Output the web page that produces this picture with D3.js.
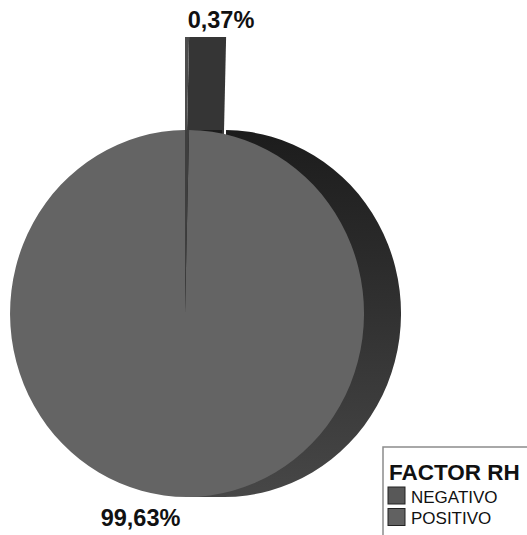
<!DOCTYPE html>
<html>
<head>
<meta charset="utf-8">
<script src="https://cdn.jsdelivr.net/npm/d3@7"></script>
<style>
  html, body { margin: 0; padding: 0; background: #fff; }
  svg { display: block; font-family: "Liberation Sans", Arial, sans-serif; }
</style>
</head>
<body>
<script>
// Factor RH distribution
const categories = ["NEGATIVO", "POSITIVO"];
const values = [0.37, 99.63];
const legendTitle = "FACTOR RH";

const faceColors = ["#5a5a5a", "#646464"];
const legendColors = ["#585858", "#616161"];

const W = 527, H = 535;
const cx = 185, cy = 313.5, rx = 177, ry = 183.5;
const depth = 37;      // horizontal extrusion of the 3D pie
const explode = 93;    // offset of the pulled-out slice

const fmt = v => d3.format(".2f")(v).replace(".", ",") + "%";

const svg = d3.select("body").append("svg")
  .attr("width", W).attr("height", H);

const defs = svg.append("defs");
const grad = defs.append("linearGradient")
  .attr("id", "sideGrad").attr("x1", 0).attr("y1", 0).attr("x2", 0).attr("y2", 1);
grad.append("stop").attr("offset", "0%").attr("stop-color", "#1c1c1c");
grad.append("stop").attr("offset", "45%").attr("stop-color", "#2f2f2f");
grad.append("stop").attr("offset", "100%").attr("stop-color", "#474747");

const pie = d3.pie().sort(null).value(d => d);
const slices = pie(values);
const arc = d3.arc().innerRadius(0).outerRadius(1);

// ellipse-space point for a pie angle
const pt = (a, ox, oy) => [ox + rx * Math.sin(a), oy - ry * Math.cos(a)];

const small = slices[0], big = slices[1];

// pulled-out slice: radial side wall, then its face
const ey = cy - explode;
const outer = pt(small.endAngle, cx, ey);
svg.append("path")
  .attr("d", d3.line()([[cx, ey], outer, [outer[0] + depth, outer[1]], [cx + depth, ey]]) + "Z")
  .attr("fill", "#353535");
svg.append("g")
  .attr("transform", `translate(${cx},${ey}) scale(${rx},${ry})`)
  .append("path").attr("d", arc(small)).attr("fill", "#4c4c4c");

// main slice: extruded side
const side = svg.append("g")
  .attr("transform", `translate(${cx},${cy}) scale(${rx},${ry})`);
side.append("path")
  .attr("transform", `translate(${depth / rx},0)`)
  .attr("d", arc(big)).attr("fill", "url(#sideGrad)");
side.append("rect")
  .attr("x", 0).attr("y", -1).attr("width", depth / rx).attr("height", 2)
  .attr("fill", "url(#sideGrad)");

// main slice: front face and the gap left by the pulled-out slice
const face = svg.append("g")
  .attr("transform", `translate(${cx},${cy}) scale(${rx},${ry})`);
face.append("path").attr("d", arc(big)).attr("fill", faceColors[1]);
face.append("path").attr("d", arc(small)).attr("fill", "#3e3e3e");

// value labels
svg.append("text")
  .attr("x", 221).attr("y", 28)
  .attr("text-anchor", "middle")
  .attr("font-size", 23.5).attr("font-weight", "bold").attr("fill", "#111")
  .text(fmt(values[0]));
svg.append("text")
  .attr("x", 140.5).attr("y", 526)
  .attr("text-anchor", "middle")
  .attr("font-size", 23.5).attr("font-weight", "bold").attr("fill", "#111")
  .text(fmt(values[1]));

// legend
const lg = svg.append("g");
lg.append("rect")
  .attr("x", 383).attr("y", 447).attr("width", 160).attr("height", 110)
  .attr("fill", "#fff").attr("stroke", "#8c8c8c").attr("stroke-width", 1.5);
lg.append("text")
  .attr("x", 389).attr("y", 480)
  .attr("font-size", 22.5).attr("font-weight", "bold").attr("fill", "#111")
  .text(legendTitle);
const items = lg.selectAll("g.item").data(categories).join("g")
  .attr("class", "item")
  .attr("transform", (d, i) => `translate(388,${487 + i * 21.5})`);
items.append("rect")
  .attr("width", 17).attr("height", 17)
  .attr("fill", (d, i) => legendColors[i])
  .attr("stroke", "#222").attr("stroke-width", 1);
items.append("text")
  .attr("x", 23).attr("y", 15.5)
  .attr("font-size", 17).attr("fill", "#111")
  .text(d => d);
</script>
</body>
</html>
